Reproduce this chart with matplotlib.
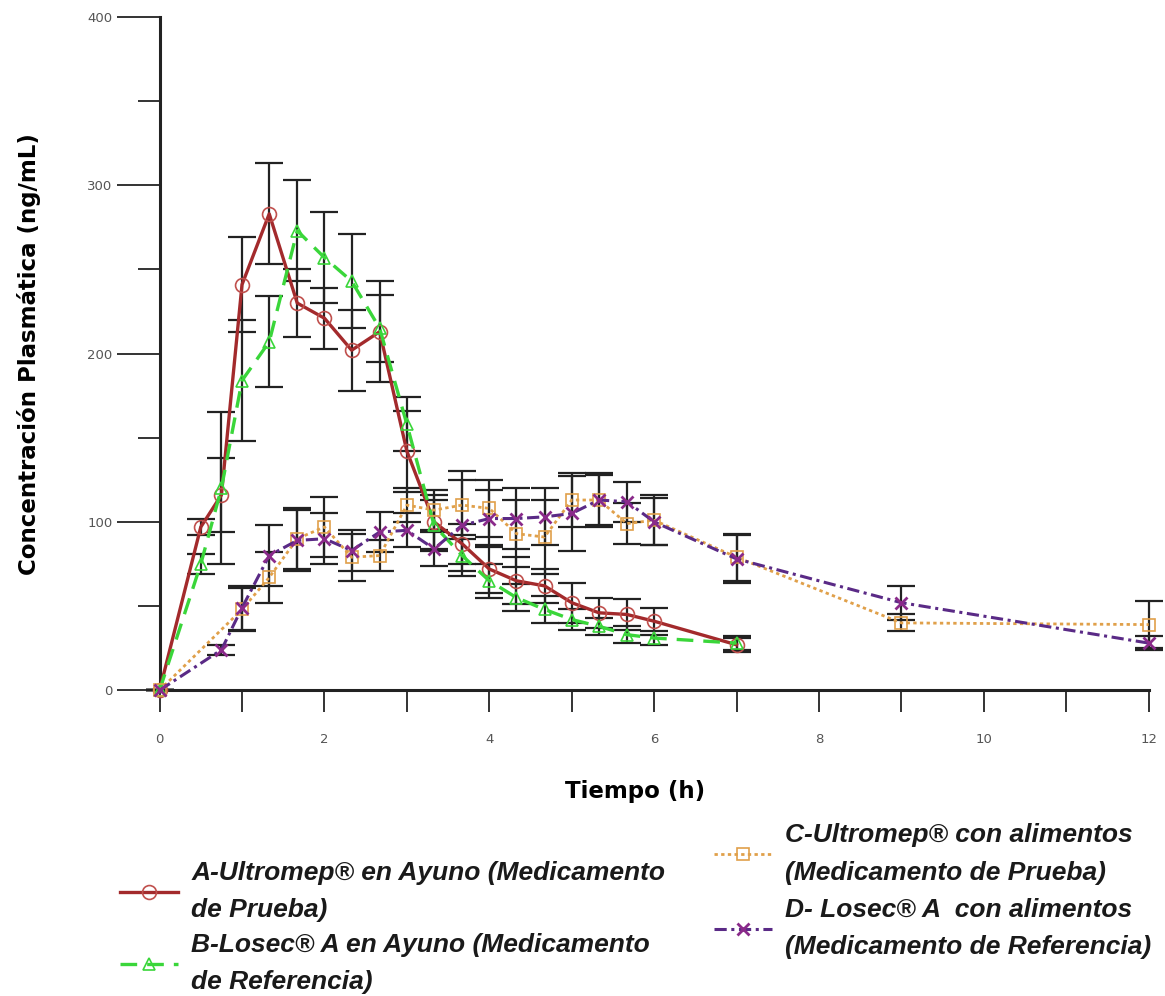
import matplotlib
matplotlib.use("Agg")
import matplotlib.pyplot as plt
from matplotlib.lines import Line2D
from matplotlib.ticker import MultipleLocator

# --- data (ng/mL, mean +/- sd) ---
TIME_AB = [0, 0.5, 0.75, 1, 1.33, 1.67, 2, 2.33, 2.67, 3, 3.33, 3.67, 4, 4.33, 4.67, 5, 5.33, 5.67, 6, 7]
A_MEAN = [0, 97, 116, 241, 283, 230, 221, 202, 213, 142, 100, 87, 72, 65, 62, 52, 46, 45, 41, 27]
A_SD = [0, 5, 22, 28, 30, 20, 18, 24, 30, 24, 16, 12, 14, 14, 10, 12, 9, 9, 8, 4]
B_MEAN = [0, 75, 120, 184, 207, 273, 257, 243, 215, 158, 98, 80, 65, 55, 48, 42, 38, 33, 31, 28]
B_SD = [0, 6, 45, 36, 27, 30, 27, 28, 20, 16, 15, 12, 10, 8, 8, 6, 5, 5, 4, 4]

TIME_C = [0, 1, 1.33, 1.67, 2, 2.33, 2.67, 3, 3.33, 3.67, 4, 4.33, 4.67, 5, 5.33, 5.67, 6, 7, 9, 12]
C_MEAN = [0, 48, 67, 90, 97, 79, 80, 110, 107, 110, 108, 93, 91, 113, 113, 99, 101, 79, 40, 39]
C_SD = [0, 13, 15, 18, 18, 14, 9, 10, 12, 20, 17, 20, 22, 16, 15, 12, 15, 14, 5, 14]

TIME_D = [0, 0.75, 1, 1.33, 1.67, 2, 2.33, 2.67, 3, 3.33, 3.67, 4, 4.33, 4.67, 5, 5.33, 5.67, 6, 7, 9, 12]
D_MEAN = [0, 24, 49, 80, 89, 90, 83, 94, 95, 84, 98, 102, 102, 103, 105, 113, 112, 100, 78, 52, 28]
D_SD = [0, 3, 13, 18, 18, 15, 12, 12, 10, 10, 27, 17, 18, 17, 22, 16, 12, 14, 14, 10, 4]

LABELS = [
    "A-Ultromep® en Ayuno (Medicamento\nde Prueba)",
    "B-Losec® A en Ayuno (Medicamento\nde Referencia)",
    "C-Ultromep® con alimentos\n(Medicamento de Prueba)",
    "D- Losec® A  con alimentos\n(Medicamento de Referencia)",
]

RED = "#a32a2c"
GREEN = "#3ad63a"
ORANGE = "#e0a04a"
PURPLE = "#5a2a86"

STYLES = [
    dict(color=RED, ls="-", lw=2.4, marker="o", mfc="none", mec="#c0504d", ms=10, mew=1.2),
    dict(color=GREEN, ls=(0, (5, 3)), lw=2.4, marker="^", mfc="none", mec=GREEN, ms=9, mew=1.2),
    dict(color=ORANGE, ls=(0, (1.2, 1.2)), lw=2.0, marker="s", mfc="none", mec=ORANGE, ms=9, mew=1.2),
    dict(color=PURPLE, ls=(0, (4, 1.5, 1, 1.5)), lw=2.2, marker="x", mfc=PURPLE, mec="#8a2a8a", ms=8, mew=2),
]

SERIES = [
    (TIME_AB, A_MEAN, A_SD),
    (TIME_AB, B_MEAN, B_SD),
    (TIME_C, C_MEAN, C_SD),
    (TIME_D, D_MEAN, D_SD),
]

fig = plt.figure(figsize=(11.65, 9.96), dpi=100)
ax = fig.add_axes([0.137, 0.307, 0.849, 0.676])

for (t, m, sd), st in zip(SERIES, STYLES):
    ax.errorbar(t, m, yerr=sd, fmt="none", ecolor="#222222", elinewidth=1.6,
                capsize=10, capthick=1.6, zorder=2, clip_on=False)
for (t, m, sd), st in zip(SERIES, STYLES):
    ax.plot(t, m, zorder=3, clip_on=False, **st)

ax.set_xlim(0, 12)
ax.set_ylim(0, 400)
ax.xaxis.set_major_locator(MultipleLocator(2))
ax.xaxis.set_minor_locator(MultipleLocator(1))
ax.yaxis.set_major_locator(MultipleLocator(100))
ax.yaxis.set_minor_locator(MultipleLocator(50))

for side in ("top", "right"):
    ax.spines[side].set_visible(False)
for side in ("left", "bottom"):
    ax.spines[side].set_linewidth(2.2)
    ax.spines[side].set_color("#222222")

ax.tick_params(axis="y", which="major", length=31, width=1.4, color="#333333",
               labelsize=9.5, labelcolor="#555555", pad=3)
ax.tick_params(axis="y", which="minor", length=16, width=1.4, color="#333333")
ax.tick_params(axis="x", which="both", length=16, width=1.4, color="#333333",
               labelsize=9.5, labelcolor="#555555", pad=15)

ax.set_xlabel("Tiempo (h)", fontsize=16.5, fontweight="bold", family="DejaVu Sans")
ax.xaxis.set_label_coords(0.481, -0.133)
ax.set_ylabel("Concentración Plasmática (ng/mL)", fontsize=16.5, fontweight="bold",
              family="DejaVu Sans", labelpad=33)

handles = [Line2D([], [], **st) for st in STYLES]
leg_font = dict(family=["Liberation Sans Narrow", "Liberation Sans"], weight="bold",
                style="italic", size=19)

leg1 = fig.legend(handles[:2], LABELS[:2], loc="upper left", bbox_to_anchor=(0.094, 0.146),
                  frameon=False, prop=leg_font, handlelength=2.2, handletextpad=0.5,
                  labelspacing=0.4, borderaxespad=0)
leg2 = fig.legend(handles[2:], LABELS[2:], loc="upper left", bbox_to_anchor=(0.604, 0.184),
                  frameon=False, prop=leg_font, handlelength=2.2, handletextpad=0.5,
                  labelspacing=0.5, borderaxespad=0)
for leg in (leg1, leg2):
    for txt in leg.get_texts():
        txt.set_linespacing(1.7)
        txt.set_color("#1a1a1a")

fig.savefig("out.png", dpi=100, facecolor="white")
